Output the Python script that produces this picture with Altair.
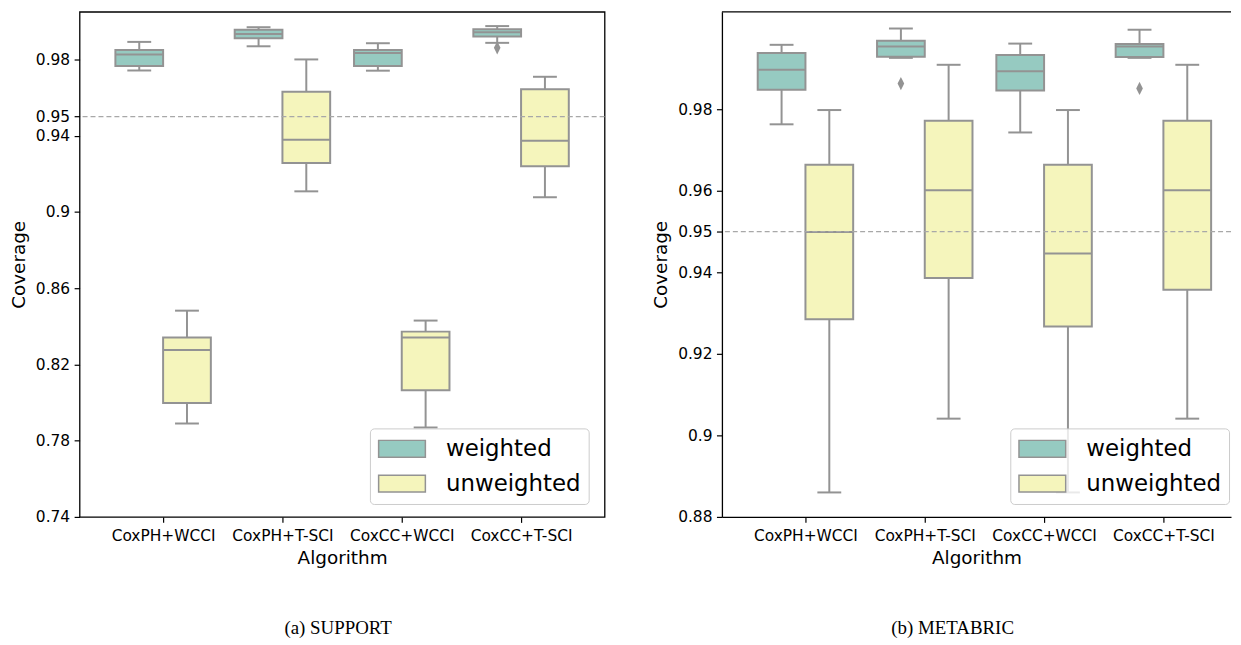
import altair as alt
import pandas as pd

# ---------------- data ----------------
algorithms = ["CoxPH+WCCI", "CoxPH+T-SCI", "CoxCC+WCCI", "CoxCC+T-SCI"]
groups = ["weighted", "unweighted"]

# per algorithm: [lower whisker, Q1, median, Q3, upper whisker]
support_weighted = [
    [0.9742, 0.9765, 0.9826, 0.9849, 0.9892],
    [0.9869, 0.9911, 0.9934, 0.9956, 0.9969],
    [0.9741, 0.9765, 0.9834, 0.9850, 0.9885],
    [0.9887, 0.9920, 0.9942, 0.9958, 0.9975],
]
support_unweighted = [
    [0.7890, 0.7997, 0.8276, 0.8341, 0.8482],
    [0.9108, 0.9257, 0.9379, 0.9630, 0.9800],
    [0.7869, 0.8065, 0.8341, 0.8372, 0.8430],
    [0.9077, 0.9240, 0.9374, 0.9643, 0.9709],
]
metabric_weighted = [
    [0.9763, 0.9848, 0.9897, 0.9938, 0.9958],
    [0.9926, 0.9929, 0.9954, 0.9968, 0.9998],
    [0.9743, 0.9846, 0.9893, 0.9933, 0.9961],
    [0.9926, 0.9928, 0.9954, 0.9960, 0.9995],
]
metabric_unweighted = [
    [0.8860, 0.9285, 0.9499, 0.9664, 0.9798],
    [0.9041, 0.9386, 0.9601, 0.9772, 0.9909],
    [0.8860, 0.9267, 0.9446, 0.9664, 0.9798],
    [0.9041, 0.9357, 0.9601, 0.9772, 0.9909],
]
support_outliers = [["CoxCC+T-SCI", "weighted", 0.9861]]
metabric_outliers = [["CoxPH+T-SCI", "weighted", 0.9863],
                     ["CoxCC+T-SCI", "weighted", 0.9851]]

support_ticks = [0.74, 0.78, 0.82, 0.86, 0.9, 0.94, 0.95, 0.98]
metabric_ticks = [0.88, 0.9, 0.92, 0.94, 0.95, 0.96, 0.98]
nominal_coverage = [0.95]
captions = ["(a) SUPPORT", "(b) METABRIC"]

# ---------------- styling ----------------
TEAL = "#96cac1"
YELLOW = "#f5f5bc"
LINE = "#939393"
FONT = "DejaVu Sans"
PX_PER_CAT = 120.0
HEIGHT = 508


def box_table(weighted, unweighted):
    rows = []
    for gi, stats in enumerate([weighted, unweighted]):
        for i, s in enumerate(stats):
            rows.append(dict(algo=algorithms[i], group=groups[gi], idx=i, gi=gi,
                             lo=s[0], q1=s[1], med=s[2], q3=s[3], hi=s[4]))
    return pd.DataFrame(rows)


def outlier_table(outs):
    return pd.DataFrame([dict(algo=a, group=g, idx=algorithms.index(a),
                              gi=groups.index(g), value=v) for a, g, v in outs])


label_expr = "[" + ",".join("'" + a + "'" for a in algorithms) + "][datum.value]"


def positions(ch):
    return ch.transform_calculate(
        pos="datum.idx + (datum.gi - 0.5) * 0.4",
    ).transform_calculate(
        left="datum.pos - 0.2", right="datum.pos + 0.2",
        cl="datum.pos - 0.1", cr="datum.pos + 0.1",
    )


def panel(df, outs, ticks, ymin, px_per_unit, width, caption, dx, legend_x, framed):
    ydom = [ymin, ymin + HEIGHT / px_per_unit]
    xmax = -0.7 + width / PX_PER_CAT
    xs = alt.Scale(domain=[-0.7, xmax], nice=False, zero=False)
    ys = alt.Scale(domain=ydom, nice=False, zero=False)

    x_axis = alt.Axis(values=[0, 1, 2, 3], labelExpr=label_expr, title="Algorithm",
                      grid=False, domain=not framed, labelPadding=6, titlePadding=5)
    y_axis = alt.Axis(values=ticks, format="~g", title="Coverage", grid=False,
                      domain=not framed, labelPadding=4.5, titlePadding=7)

    def X(f):
        return alt.X(f, scale=xs, axis=x_axis)

    def Y(f):
        return alt.Y(f, scale=ys, axis=y_axis)

    base = positions(alt.Chart(df))

    legend = alt.Legend(
        title=None, orient="none", legendX=legend_x, legendY=419, direction="vertical",
        symbolType="M-1,-0.72H3V0.72H-1Z", symbolSize=552.25,
        symbolStrokeColor=LINE, symbolStrokeWidth=1.5, symbolOpacity=1,
        labelFont=FONT, labelFontSize=23, labelColor="black", labelOffset=43.5,
        labelLimit=300, rowPadding=10, padding=8,
        fillColor="rgba(255,255,255,0.8)", strokeColor="#cccccc", cornerRadius=4)

    boxes = base.mark_rect(stroke=LINE, strokeWidth=2).encode(
        x=X("left:Q"), x2="right:Q", y=Y("q1:Q"), y2="q3:Q",
        color=alt.Color("group:N", scale=alt.Scale(domain=groups, range=[TEAL, YELLOW]),
                        legend=legend))
    whisk_lo = base.mark_rule(stroke=LINE, strokeWidth=2).encode(
        x=X("pos:Q"), y=Y("lo:Q"), y2="q1:Q")
    whisk_hi = base.mark_rule(stroke=LINE, strokeWidth=2).encode(
        x=X("pos:Q"), y=Y("q3:Q"), y2="hi:Q")
    cap_lo = base.mark_rule(stroke=LINE, strokeWidth=2).encode(
        x=X("cl:Q"), x2="cr:Q", y=Y("lo:Q"))
    cap_hi = base.mark_rule(stroke=LINE, strokeWidth=2).encode(
        x=X("cl:Q"), x2="cr:Q", y=Y("hi:Q"))
    medians = base.mark_rule(stroke=LINE, strokeWidth=2).encode(
        x=X("left:Q"), x2="right:Q", y=Y("med:Q"))

    fliers = positions(alt.Chart(outlier_table(outs))).mark_point(
        shape="M0,-1L0.5,0L0,1L-0.5,0Z", filled=True, size=178, color=LINE, opacity=1
    ).encode(x=X("pos:Q"), y=Y("value:Q"))

    ref = alt.Chart(pd.DataFrame({"y": nominal_coverage})).mark_rule(
        color="#a8a8a8", strokeWidth=1.3, strokeDash=[5, 3]
    ).encode(y=Y("y:Q"))

    layers = [boxes, whisk_lo, whisk_hi, cap_lo, cap_hi, medians, fliers, ref]
    if framed:
        view = alt.ViewBackground(stroke="black", strokeWidth=1.3)
    else:
        view = alt.ViewBackground(stroke="transparent")
        # top edge of the axes frame (the right edge lies outside the page)
        top_edge = alt.Chart(pd.DataFrame({"edge": [0]})).mark_rule(
            color="black", strokeWidth=1.3).encode(y=alt.value(0))
        layers.append(top_edge)

    return alt.layer(*layers).properties(
        width=width, height=HEIGHT, view=view,
        title=alt.TitleParams(caption, orient="bottom", anchor="middle", frame="group",
                              offset=52, dx=dx, baseline="top", font="Liberation Serif",
                              fontSize=19, fontWeight="normal", color="black"))


left = panel(box_table(support_weighted, support_unweighted), support_outliers,
             support_ticks, 0.74, 1917.0, 528, captions[0], -4, 292, True)
right = panel(box_table(metabric_weighted, metabric_unweighted), metabric_outliers,
              metabric_ticks, 0.88, 4100.0, 512, captions[1], -24, 290, False)

chart = alt.hconcat(left, right, spacing=44).resolve_scale(
    color="independent").resolve_legend(color="independent").properties(
    padding={"left": 0, "top": 0, "right": 0, "bottom": 0}
).configure(font=FONT, background="white").configure_axis(
    labelFont=FONT, labelFontSize=15.5, labelColor="black",
    titleFont=FONT, titleFontSize=18.5, titleFontWeight="normal", titleColor="black",
    domainColor="black", domainWidth=1.3, tickColor="black", tickWidth=1.2, tickSize=5.5,
)

chart.save("out.html", embed_options={"renderer": "svg", "actions": False})
